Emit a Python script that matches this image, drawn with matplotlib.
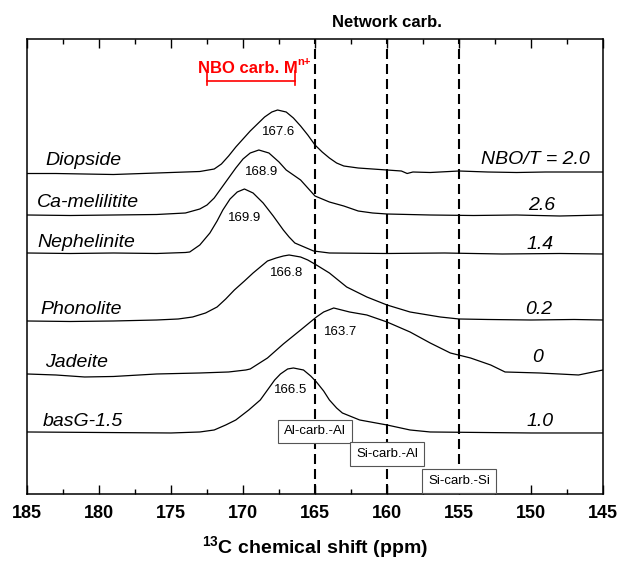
import matplotlib
matplotlib.use('Agg')
import matplotlib.pyplot as plt

plt.rcParams['font.family'] = ['Liberation Sans', 'DejaVu Sans']
plt.rcParams['mathtext.fontset'] = 'custom'
plt.rcParams['mathtext.rm'] = 'Liberation Sans'
plt.rcParams['mathtext.bf'] = 'Liberation Sans:bold'

# spectra: ppm positions and intensity above each baseline (a.u.)
diop_ppm = [185, 183, 181, 179, 177, 175, 173, 172, 171.5, 171, 170.5, 170, 169.5, 169, 168.5, 168, 167.6, 167,
            166.5, 166, 165.5, 165, 164.5, 164, 163.5, 163, 162, 161, 160, 159, 158.6, 158.2, 157, 155, 153,
            151, 149, 147, 145]
diop_int = [-0.5, -0.5, -1, -1.5, -0.5, 0.5, 1.5, 4, 9, 17, 26, 34, 42, 49, 56, 61, 63, 61,
            55, 47, 38, 28, 21, 15, 10, 7, 5, 4, 3, 2, -0.5, 1, 0.5, 2, 1,
            0.5, 1, 1, 1]

camel_ppm = [185, 182, 179, 176, 174, 173, 172.5, 172, 171.5, 171, 170.5, 170, 169.5, 168.9, 168.2, 167.5,
             167, 166.5, 166, 165.5, 165, 164, 163, 162, 161, 160, 157, 154, 151, 148, 145]
camel_int = [0, -0.5, 0, 0.5, 2, 6, 10, 17, 27, 37, 47, 56, 62, 65, 62, 53,
             45, 40, 35, 27, 19, 13, 9, 4, 2, 1, 0, -0.5, 0, -1, 0]

neph_ppm = [185, 182, 179, 176, 174, 173.7, 173, 172.3, 171.8, 171.4, 170.9, 170.4, 169.9, 169.3, 168.6,
            167.9, 167.2, 166.8, 166.4, 165.1, 164, 160, 156, 152, 148, 145]
neph_int = [0, -0.5, 0, -0.5, 0.5, 1, 8, 20, 32, 43, 54, 61, 64, 60, 50,
            37, 23, 16, 10, 2, 0, -0.5, 0, -1, -0.5, -1]

phon_ppm = [185, 182, 179, 176, 174.5, 173.5, 172.6, 171.8, 171.2, 170.6, 169.9, 169.3, 168.8, 168.3, 167.7,
            167.2, 166.8, 166, 165.5, 164.9, 164, 162.8, 161.4, 160, 158.4, 156.3, 155, 153, 150, 147, 145]
phon_int = [0, -0.5, 0, 1, 2, 4, 8, 14, 22, 31, 40, 48, 54, 60, 63,
            65, 66, 64, 61, 56, 48, 34, 24, 16, 9, 4, 2, 1.5, 1, 1.5, 1]

jade_ppm = [185, 183, 181, 179, 176, 173, 171, 169.8, 169.5, 168.3, 167.2, 166, 164.9, 164.4, 163.7, 162.6,
            161.4, 160, 158.4, 157, 155.6, 154.2, 152.8, 151.8, 149.4, 146.7, 145]
jade_int = [0, -1, -3, -2.5, 0, 1, 2, 4, 5, 16, 30, 44, 57, 62, 66, 62,
            59, 52, 42, 31, 21, 16, 9, 2, 1, -1, 4]

basg_ppm = [185, 180, 175, 173, 172, 171.2, 170.5, 169.6, 168.8, 168.3, 167.8, 167.4, 166.9, 166.5, 165.8,
            165.3, 164.9, 164.4, 164, 163.5, 163.1, 161.9, 160, 158.4, 157, 150, 145]
basg_int = [1, 0.5, 0, 1, 3, 8, 13, 23, 33, 43, 53, 59, 64, 65, 63,
            57, 51, 42, 33, 25, 20, 13, 8, 3, 1, 0, 0]

samples = ['Diopside', 'Ca-melilitite', 'Nephelinite', 'Phonolite', 'Jadeite', 'basG-1.5']
nbo_t = ['NBO/T = 2.0', '2.6', '1.4', '0.2', '0', '1.0']
peak_labels = ['167.6', '168.9', '169.9', '166.8', '163.7', '166.5']
network_lines = [165, 160, 155]
network_names = ['Al-carb.-Al', 'Si-carb.-Al', 'Si-carb.-Si']

spectra = [(diop_ppm, diop_int), (camel_ppm, camel_int), (neph_ppm, neph_int),
           (phon_ppm, phon_int), (jade_ppm, jade_int), (basg_ppm, basg_int)]

# layout (stack offsets and label positions)
offsets = [321, 279, 241, 173, 120, 61]
name_pos = [(183.75, 334), (184.3, 292), (184.3, 251), (184.1, 184), (183.75, 131), (183.9, 72)]
nbo_pos = [(149.7, 335), (149.27, 289), (149.34, 249), (149.44, 184), (149.55, 136), (149.4, 72)]
peak_pos = [(167.53, 362), (168.7, 322), (169.86, 276), (166.98, 221), (163.2, 162), (166.67, 104)]
box_y = [62.5, 40, 13]

fig = plt.figure(figsize=(6.21, 5.63), dpi=100)
ax = fig.add_axes([0.0435, 0.1226, 0.9275, 0.8081])

for (x, y), off in zip(spectra, offsets):
    ax.plot(x, [v + off for v in y], color='black', lw=0.9)

for pos in network_lines:
    ax.axvline(pos, color='black', lw=1.5, ls=(0, (4.8, 2.4)))

for name, (px, py) in zip(samples, name_pos):
    ax.text(px, py, name, fontsize=14, style='italic', ha='left', va='center')
for t, (px, py) in zip(nbo_t, nbo_pos):
    ax.text(px, py, t, fontsize=14, style='italic', ha='center', va='center')
for t, (px, py) in zip(peak_labels, peak_pos):
    ax.text(px, py, t, fontsize=9.5, ha='center', va='center')

for pos, name, yy in zip(network_lines, network_names, box_y):
    ax.text(pos, yy, name, fontsize=9.5, ha='center', va='center',
            bbox=dict(boxstyle='square,pad=0.45', fc='white', ec='#555555', lw=0.8))

ax.text(160, 472, 'Network carb.', fontsize=12, fontweight='bold', ha='center', va='center', clip_on=False)

# NBO carbonate range
ax.text(173.1, 426, 'NBO carb. M', fontsize=12, fontweight='bold', color='red', ha='left', va='center')
ax.text(166.25, 432, 'n+', fontsize=8, fontweight='bold', color='red', ha='left', va='center')
ax.plot([172.5, 166.4], [413, 413], color='red', lw=1.2)
ax.plot([172.5, 172.5], [409, 423], color='red', lw=1.2)
ax.plot([166.4, 166.4], [409, 423], color='red', lw=1.2)

ax.set_xlim(185, 145)
ax.set_ylim(0, 455)
ax.set_xticks(range(185, 144, -5))
ax.set_xticks([182.5 - 5 * i for i in range(8)], minor=True)
ax.set_yticks([])
ax.tick_params(axis='x', which='both', direction='in', top=True, bottom=True, width=1, pad=8)
ax.tick_params(axis='x', which='major', length=6.5, labelsize=13)
ax.tick_params(axis='x', which='minor', length=3.5)
for lbl in ax.get_xticklabels():
    lbl.set_fontweight('bold')
for sp in ax.spines.values():
    sp.set_linewidth(1.1)
ax.set_xlabel(r'$^{\mathbf{13}}$C chemical shift (ppm)', fontsize=14, fontweight='bold', labelpad=9)

fig.savefig('out.png', dpi=100)
